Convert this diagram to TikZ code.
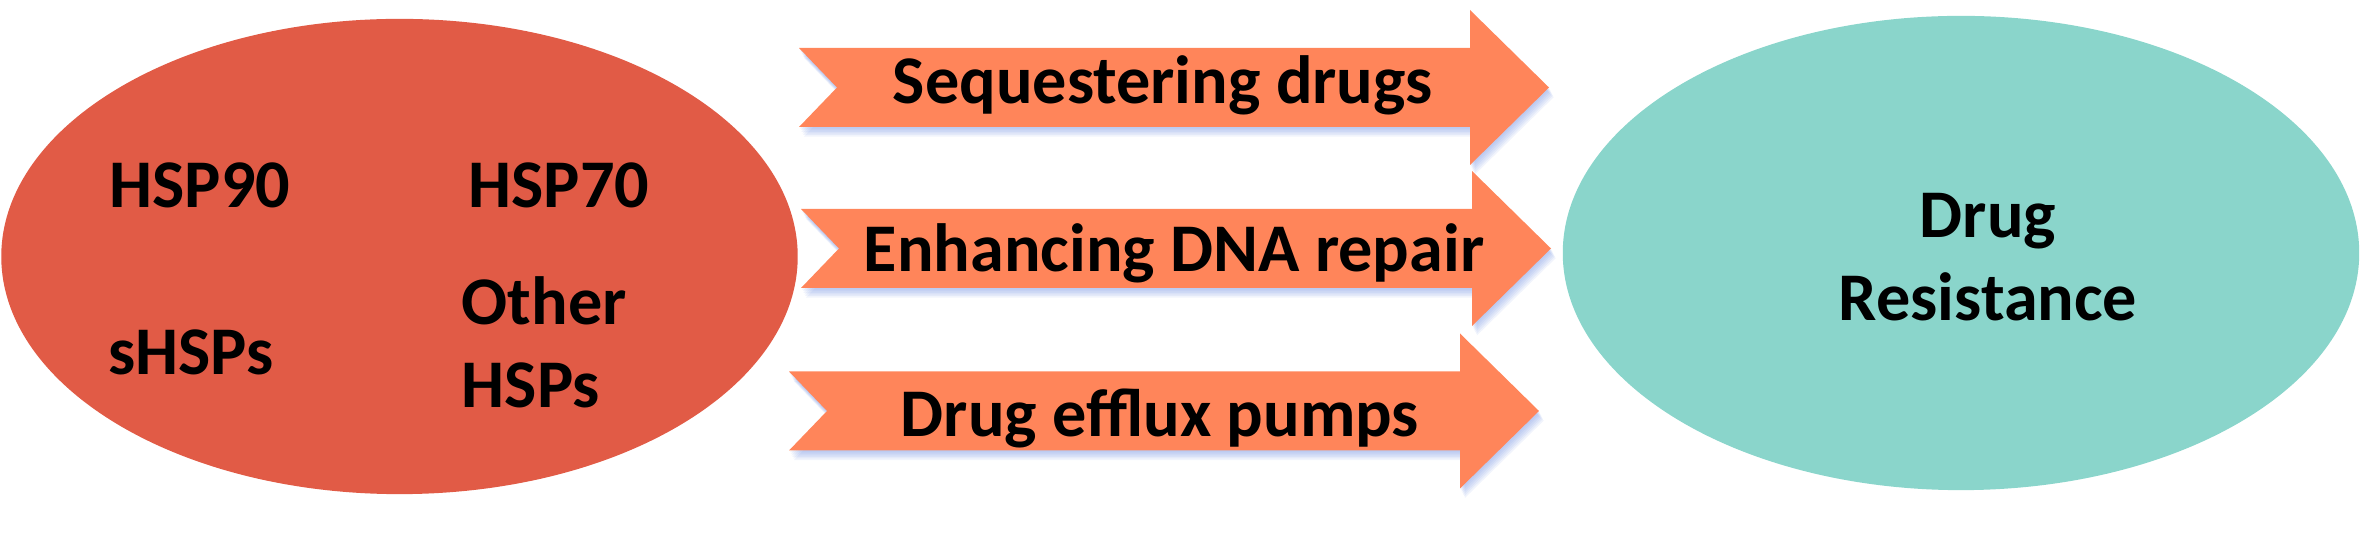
\documentclass[tikz,border=0pt]{standalone}
\usepackage{fontspec}
\setmainfont{Carlito}

\definecolor{hspred}{RGB}{225,91,70}
\definecolor{pathorange}{RGB}{255,133,90}
\definecolor{resteal}{RGB}{138,213,203}
\definecolor{shadowblue}{RGB}{115,145,225}

\tikzset{
  lbl/.style={font=\fontsize{19.4pt}{23.8pt}\selectfont\bfseries, inner sep=0pt},
  pathway/.pic={
    \foreach \s in {1,...,6}
      \fill[shadowblue, opacity=0.1, shift={(0.8*\s,1.6*\s)}]
        (0,-39.5) -- (671,-39.5) -- (671,-77.5) -- (750,0) -- (671,77.5)
        -- (671,39.5) -- (0,39.5) -- (38,0) -- cycle;
    \fill[pathorange] (0,-39.5) -- (671,-39.5) -- (671,-77.5) -- (750,0)
      -- (671,77.5) -- (671,39.5) -- (0,39.5) -- (38,0) -- cycle;
  }
}

\begin{document}
\begin{tikzpicture}[x=0.01cm, y=-0.01cm]
        \useasboundingbox (0,0) rectangle (2362,534);
        % heat shock proteins
        \fill[hspred] (399.5,256.5) ellipse (3.98cm and 2.375cm);
        \node (hsp90) at (200,208) [lbl, anchor=base] {HSP90};
        \node (hsp70) at (559,208) [lbl, anchor=base] {HSP70};
        \node (shsps) at (191,375) [lbl, anchor=base] {sHSPs};
        \node (other) at (461,408) [lbl, anchor=base west, align=left] {Other\\HSPs};
        % drug resistance
        \fill[resteal] (1961,253) ellipse (3.98cm and 2.37cm);
        \node (res) at (1988,321) [lbl, anchor=base, align=center] {Drug\\Resistance};
        % mechanisms
        \pic at (799,87.5) {pathway};
        \pic at (801,248.5) {pathway};
        \pic at (789,411) {pathway};
        \node (seq) at (1163,104) [lbl, anchor=base] {Sequestering drugs};
        \node (dna) at (1174,272) [lbl, anchor=base] {Enhancing DNA repair};
        \node (efflux) at (1160,437) [lbl, anchor=base] {Drug efflux pumps};
    \end{tikzpicture}
\end{document}
